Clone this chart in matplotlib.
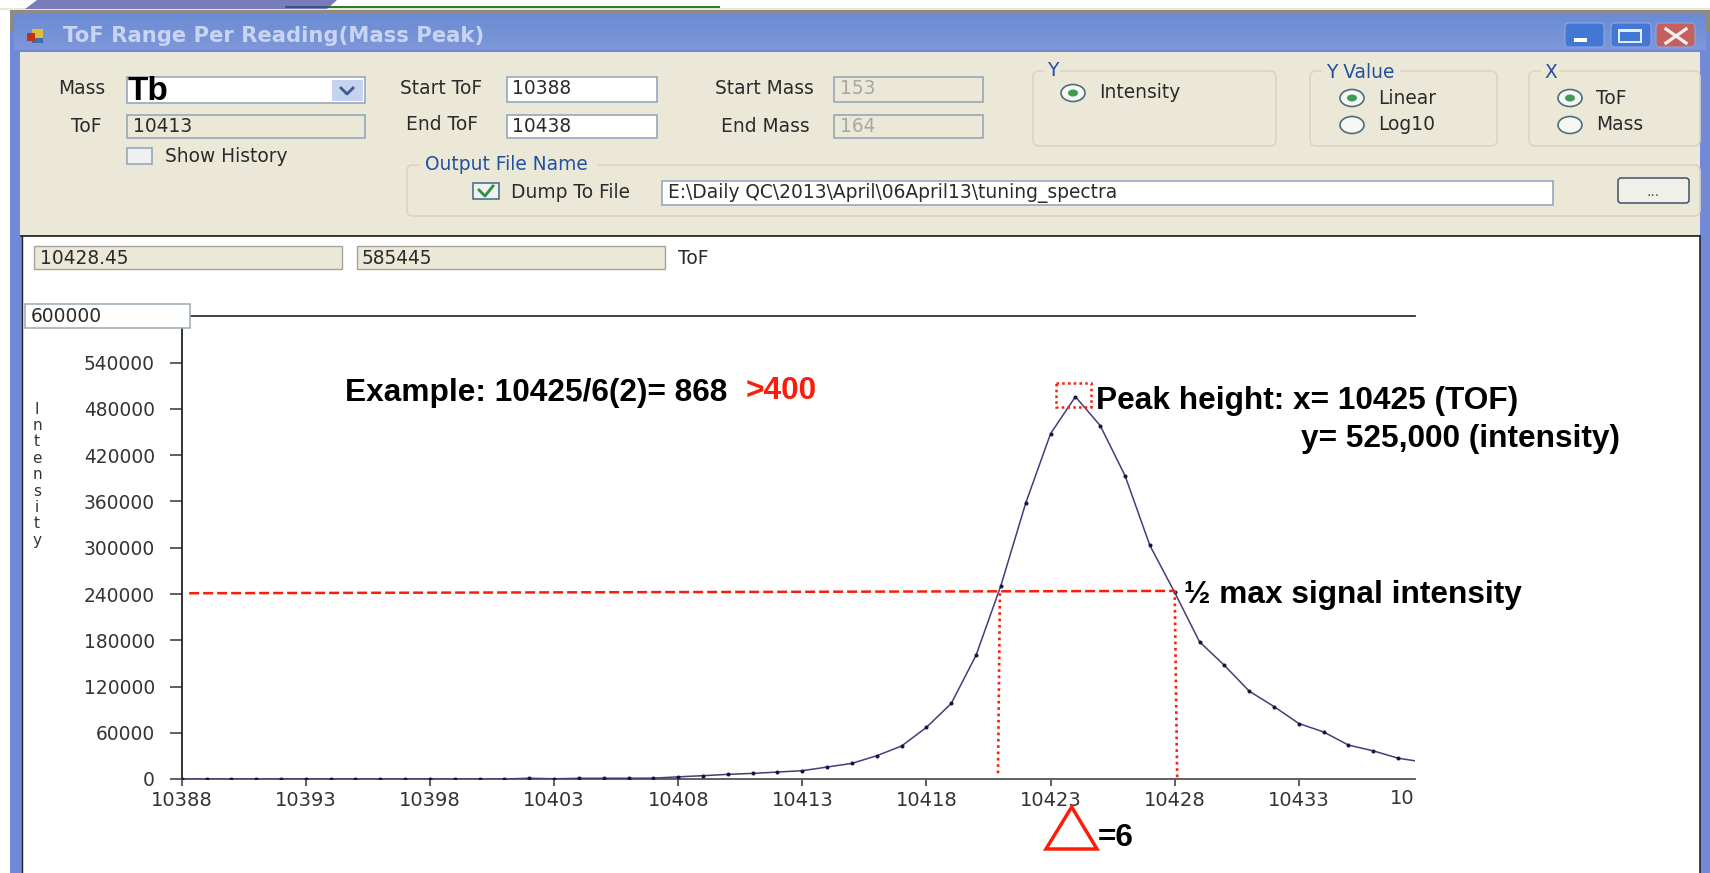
import matplotlib
matplotlib.use("Agg")
import matplotlib.pyplot as plt
import numpy as np
from matplotlib.patches import Rectangle, FancyBboxPatch, Ellipse, Polygon

W, H = 1710, 873

tof = np.arange(10388, 10439)
intensity = [0, 0, 0, 0, 0, 0, 0, 0, 0, 0, 0, 0, 0, 0,
             1000, 300, 900, 1000, 1000, 1100, 2800, 4300, 6000, 7300, 9000, 10800,
             15500, 20300, 30200, 42800, 67000, 98000, 160700, 251000, 358000, 448000,
             496000, 458500, 393500, 303000, 242000, 178000, 147500, 114000, 94000,
             72000, 61000, 44000, 36500, 27000, 22000]
x_ticks = [10388, 10393, 10398, 10403, 10408, 10413, 10418, 10423, 10428, 10433]
y_ticks = [0, 60000, 120000, 180000, 240000, 300000, 360000, 420000, 480000, 540000]
half_start, half_end = 241000, 244000
half_x_from = 10388.3
half_left = (10420.96, 10420.88)
half_right = (10428.0, 10428.1)
radio_labels = ["Intensity", "Linear", "Log10", "ToF", "Mass"]

plt.rcParams["font.family"] = ["DejaVu Sans"]
fig = plt.figure(figsize=(W / 100, H / 100), dpi=100, facecolor="white")
bg = fig.add_axes([0, 0, 1, 1])
bg.set_xlim(0, W)
bg.set_ylim(H, 0)
bg.axis("off")

PANEL = "#ebe8d8"
BORDER = "#8ca3b8"
BLUE = "#7189d6"
TEXT = "#2a2a2a"
UI = 13.4


def rect(x, y, w, h, fc, ec="none", lw=1.0, z=1, ax=None):
    (ax or bg).add_patch(Rectangle((x, y), w, h, fc=fc, ec=ec, lw=lw, zorder=z))


def label(x, y, s, size=UI, color=TEXT, ha="left", weight="normal", z=5, family=None, ax=None):
    (ax or bg).text(x, y, s, fontsize=size, color=color, ha=ha, va="center", weight=weight,
                    zorder=z, family=family or "DejaVu Sans")


def group(x, y, w, h):
    bg.add_patch(FancyBboxPatch((x + 4, y + 4), w - 8, h - 8, boxstyle="round,pad=4,rounding_size=6",
                                fc=PANEL, ec="#d8d5c6", lw=1.2, zorder=2))


def radio(x, y, on):
    bg.add_patch(Ellipse((x, y), 24, 17, fc="#f6f6f2", ec="#4e6e7c", lw=1.2, zorder=3))
    if on:
        bg.add_patch(Ellipse((x, y), 10, 7, fc="#3f9a55", ec="none", zorder=4))


def field(x, y, w, h, fc="white", ec=BORDER):
    rect(x, y, w, h, fc, ec=ec, lw=1.1, z=3)


# top strip and window frame
bg.add_patch(Polygon([[37, 0], [337, 0], [327, 9], [25, 9]], fc="#787cb8", ec="none", zorder=1))
rect(285, 6, 42, 1.5, "#33558a", z=1.05)
rect(327, 6, 393, 1.5, "#2a7a30")
rect(0, 7.5, 1710, 2.5, "#ece8d2", z=0.9)
rect(10, 10, 1700, 4.5, "#8c8c84")
bg.add_patch(FancyBboxPatch((14, 18), 1692, 851, boxstyle="round,pad=4,rounding_size=8",
                            fc=BLUE, ec="none", zorder=1))
rect(10, 30, 1700, 843, BLUE, z=1.01)
rect(10, 14.5, 4, 16, "#8c8c84", z=1.01)
rect(1706, 14.5, 4, 16, "#8c8c84", z=1.01)
top_col = np.array([0.42, 0.55, 0.83])
mid_col = np.array([0.49, 0.59, 0.85])
for i, c in enumerate(np.linspace(0, 1, 17)):
    rect(14, 16 + i * 2, 1692, 2, tuple(top_col + (mid_col - top_col) * c), z=1.1)
rect(20, 52, 1680, 183, PANEL, z=1.2)
rect(22, 236, 1678, 637, "white", z=1.2)
bg.plot([21, 1700], [235.5, 235.5], color="#222222", lw=1.2, zorder=3)
bg.plot([21.5, 21.5], [236, 873], color="#222222", lw=1.0, zorder=3)
bg.plot([1699.5, 1699.5], [236, 873], color="#222222", lw=1.2, zorder=3)

# title bar
rect(32, 29, 11, 9, "#e0bc3a", z=3)
rect(32, 38, 11, 5, "#3c6fb0", z=3)
rect(27, 33, 8, 8, "#c03020", z=3)
label(63, 36, "ToF Range Per Reading(Mass Peak)", size=15.2, color="#c9d4f2", weight="bold")
for x0, w, c in [(1565, 39, "#4377d6"), (1611, 40, "#4377d6"), (1656, 39, "#c5605f")]:
    bg.add_patch(FancyBboxPatch((x0 + 2, 25), w - 4, 20, boxstyle="round,pad=2,rounding_size=4",
                                fc=c, ec="#8ea6e2", lw=0.8, zorder=3))
rect(1574, 38, 13, 4, "white", z=4)
bg.add_patch(Rectangle((1619, 30), 22, 12, fc="none", ec="#e8eefc", lw=1.4, zorder=4))
rect(1619, 29, 22, 3, "#e8eefc", z=4)
bg.plot([1666, 1686], [29, 43], color="#f4f0f0", lw=2.3, zorder=4)
bg.plot([1666, 1686], [43, 29], color="#f4f0f0", lw=2.3, zorder=4)

# form fields
label(58, 89, "Mass")
field(127, 77, 238, 26)
label(128, 91, "Tb", size=24, color="black", weight="bold", z=6, family="Liberation Sans")
rect(332, 80, 31, 21, "#c5d3ee", z=4)
bg.plot([341, 347, 353], [88, 94, 88], color="#3c5a90", lw=2, zorder=5)
label(71, 126, "ToF")
field(127, 115, 238, 23, PANEL)
label(133, 126, "10413")
rect(127, 148, 25, 16, "#eef0f2", ec=BORDER, lw=1.1, z=3)
label(165, 156, "Show History")

label(400, 89, "Start ToF")
field(507, 77, 150, 25)
label(512, 89, "10388")
label(406, 125, "End ToF")
field(507, 115, 150, 23)
label(512, 126, "10438")

label(715, 89, "Start Mass")
field(834, 77, 149, 25, PANEL)
label(840, 89, "153", color="#a8a8a0")
label(721, 126, "End Mass")
field(834, 115, 149, 23, PANEL)
label(840, 126, "164", color="#a8a8a0")

group(1033, 71, 243, 75)
rect(1044, 64, 16, 14, PANEL, z=3)
label(1047, 71, "Y", color="#2050a0")
radio(1073, 93, True)
label(1099, 93, radio_labels[0])

group(1310, 71, 187, 75)
rect(1322, 64, 78, 14, PANEL, z=3)
label(1326, 72, "Y Value", color="#2050a0")
radio(1352, 98, True)
label(1378, 98, radio_labels[1])
radio(1352, 125, False)
label(1378, 125, radio_labels[2])

group(1529, 71, 171, 75)
rect(1541, 64, 18, 14, PANEL, z=3)
label(1544, 72, "X", color="#2050a0")
radio(1570, 98, True)
label(1596, 98, radio_labels[3])
radio(1570, 125, False)
label(1596, 125, radio_labels[4])

group(407, 165, 1293, 51)
rect(420, 158, 178, 14, PANEL, z=3)
label(425, 165, "Output File Name", color="#2050a0")
rect(473, 183, 26, 16, "#eef0f2", ec="#3c6a80", lw=1.1, z=3)
bg.plot([479, 485, 493], [190, 196, 186], color="#2f8f40", lw=2, zorder=4)
label(511, 192, "Dump To File")
field(662, 181, 891, 24)
label(668, 193, r"E:\Daily QC\2013\April\06April13\tuning_spectra")
bg.add_patch(FancyBboxPatch((1620, 180), 67, 21, boxstyle="round,pad=2,rounding_size=3",
                            fc="#f0efe8", ec="#40506a", lw=1.1, zorder=3))
label(1653, 192, "...", ha="center", size=10, color="#555555")

# read-outs
rect(34, 246, 308, 23, PANEL, ec="#a4a49a", lw=1, z=3)
label(40, 258, "10428.45")
rect(357, 246, 308, 23, PANEL, ec="#a4a49a", lw=1, z=3)
label(362, 258, "585445")
label(678, 258, "ToF")

# chart
ax_left, ax_right, ax_top, ax_bottom = 181.7, 1415, 316.5, 779
ax = fig.add_axes([ax_left / W, 1 - ax_bottom / H, (ax_right - ax_left) / W, (ax_bottom - ax_top) / H])
ax.patch.set_alpha(0)
ax.set_xlim(10388, 10437.68)
ax.set_ylim(0, 600000)
ax.plot(tof, intensity, color="#4a3a78", lw=1.1, marker="o", ms=1.9, mec="#1a1440", mfc="#1a1440",
        zorder=3)
ax.spines["right"].set_visible(False)
ax.spines["left"].set_color("#222222")
ax.spines["top"].set_color("#333333")
ax.spines["bottom"].set_color("#555555")
for s in ["left", "bottom", "top"]:
    ax.spines[s].set_linewidth(1.3)
ax.set_xticks(x_ticks)
ax.set_yticks(y_ticks)
ax.set_yticklabels([str(v) for v in y_ticks])
ax.set_xticklabels([str(v) for v in x_ticks])
ax.tick_params(axis="x", labelsize=14, colors="#333333", length=5, width=1.1, pad=3.5)
ax.tick_params(axis="y", labelsize=13.4, colors="#333333", length=8.4, width=1.1, pad=11)
ax.text(10437.68, -25000, "10", fontsize=14, color="#333333", ha="right", va="center", clip_on=False)

# annotations
RED = "#fa1e0a"
ax.plot([half_x_from, half_right[0]], [half_start, half_end], color=RED, lw=1.8, ls=(0, (4, 1.6)), zorder=4)
ax.plot(half_left, [half_start, 3000], color=RED, lw=1.9, ls=(0, (1, 1.4)), zorder=4)
ax.plot(half_right, [half_end, 800], color=RED, lw=1.9, ls=(0, (1, 1.4)), zorder=4)

top = fig.add_axes([0, 0, 1, 1])
top.set_xlim(0, W)
top.set_ylim(H, 0)
top.axis("off")

# 600000 box covers the axis corner
rect(25, 304, 165, 24, "white", ec="#9aa8b4", lw=1.1, z=6, ax=top)
label(31, 316, "600000", z=7, ax=top)

# stacked axis title
for i, ch in enumerate("Intensity"):
    label(37, 409 + i * 16.4, ch, size=11, ha="center", color="#333333", ax=top)

top.add_patch(Rectangle((1055.5, 382.5), 35, 24.5, fc="none", ec=RED, lw=1.8, ls=(0, (1, 1.3)), zorder=5))
top.add_patch(Polygon([[1071.7, 807], [1097, 849], [1046, 849]], closed=True, fc="none", ec=RED, lw=2.5, zorder=5))


def bold(x, y, s, color="black", size=22.8):
    top.text(x, y, s, fontsize=size, color=color, weight="bold", ha="left", va="center",
             family="Liberation Sans", zorder=6)


bold(345, 393, "Example: 10425/6(2)= 868")
bold(746, 391, ">400", color=RED)
bold(1096, 401, "Peak height: x= 10425 (TOF)")
bold(1301, 439, "y= 525,000 (intensity)")
bold(1184, 595, "\u00bd max signal intensity")
bold(1098, 838, "=6")

fig.savefig("out.png", dpi=100)
